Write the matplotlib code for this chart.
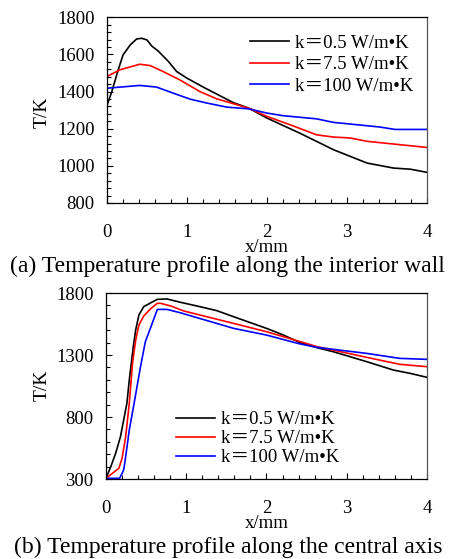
import matplotlib
matplotlib.use("Agg")
import matplotlib.pyplot as plt
from matplotlib.ticker import MultipleLocator, FixedLocator
from matplotlib.font_manager import FontProperties

plt.rcParams['font.family'] = ['Liberation Serif', 'Noto Sans CJK SC', 'DejaVu Sans']

labels = ["k\uff1d0.5 W/m\u2022K", "k\uff1d7.5 W/m\u2022K", "k\uff1d100 W/m\u2022K"]
colors = ["black", "red", "blue"]

# (a) interior wall
wall_x_k05 = [0, 0.06, 0.14, 0.20, 0.29, 0.37, 0.43, 0.50, 0.56, 0.64, 0.77, 0.87, 1.0, 1.22, 1.58, 1.77, 2.0, 2.41, 2.83, 3.25, 3.58, 3.79, 4.0]
wall_T_k05 = [1325, 1400, 1517, 1597, 1651, 1683, 1687, 1678, 1645, 1618, 1561, 1508, 1472, 1420, 1340, 1311, 1257, 1176, 1087, 1015, 988, 982, 965]
wall_x_k75 = [0, 0.16, 0.41, 0.54, 0.70, 0.91, 1.16, 1.37, 1.77, 2.0, 2.29, 2.62, 2.83, 3.04, 3.25, 3.66, 4.0]
wall_T_k75 = [1481, 1517, 1547, 1540, 1508, 1463, 1400, 1361, 1311, 1266, 1221, 1167, 1155, 1150, 1132, 1114, 1099]
wall_x_k100 = [0, 0.41, 0.62, 0.83, 1.04, 1.25, 1.5, 1.77, 2.0, 2.2, 2.62, 2.83, 3.25, 3.41, 3.6, 4.0]
wall_T_k100 = [1418, 1433, 1424, 1391, 1359, 1338, 1316, 1307, 1284, 1270, 1253, 1234, 1216, 1209, 1196, 1196]

# (b) central axis
axis_x_k05 = [0, 0.06, 0.12, 0.18, 0.22, 0.26, 0.29, 0.31, 0.34, 0.37, 0.41, 0.47, 0.56, 0.64, 0.76, 0.93, 1.17, 1.38, 1.59, 2.0, 2.21, 2.42, 2.63, 2.83, 3.04, 3.25, 3.58, 3.79, 4.0]
axis_T_k05 = [306, 400, 507, 641, 776, 910, 1098, 1206, 1367, 1502, 1623, 1690, 1722, 1749, 1752, 1725, 1690, 1658, 1609, 1515, 1461, 1400, 1359, 1327, 1287, 1246, 1179, 1152, 1120]
axis_x_k75 = [0, 0.16, 0.20, 0.245, 0.29, 0.33, 0.37, 0.41, 0.47, 0.56, 0.64, 0.68, 0.81, 0.97, 1.59, 2.0, 2.42, 2.63, 2.83, 3.25, 3.66, 4.0]
axis_T_k75 = [306, 386, 467, 641, 910, 1233, 1421, 1542, 1615, 1676, 1717, 1717, 1695, 1655, 1555, 1488, 1408, 1367, 1340, 1281, 1225, 1206]
axis_x_k100 = [0, 0.17, 0.22, 0.245, 0.29, 0.35, 0.43, 0.49, 0.56, 0.64, 0.76, 0.93, 1.59, 2.0, 2.42, 2.63, 2.83, 3.25, 3.66, 4.0]
axis_T_k100 = [306, 306, 373, 480, 695, 910, 1206, 1407, 1528, 1668, 1668, 1640, 1515, 1461, 1389, 1362, 1346, 1313, 1273, 1265]

wall_yticks = [800, 1000, 1200, 1400, 1600, 1800]
axis_yticks = [300, 800, 1300, 1800]
xticks = [0, 1, 2, 3, 4]

fig = plt.figure(figsize=(4.54, 5.59), dpi=100)

def style(ax, yticks, ymin_step):
    ax.set_xlim(xticks[0], xticks[-1])
    ax.set_ylim(yticks[0], yticks[-1])
    ax.xaxis.set_major_locator(FixedLocator(xticks))
    ax.xaxis.set_minor_locator(MultipleLocator(0.2))
    ax.yaxis.set_major_locator(FixedLocator(yticks))
    ax.yaxis.set_minor_locator(MultipleLocator(ymin_step))
    ax.tick_params(which='both', direction='in', top=False, right=False, labelsize=13.5)
    ax.tick_params(axis='x', which='both', pad=15)
    ax.tick_params(axis='y', which='both', pad=9)
    ax.tick_params(which='major', length=4, width=0.8)
    ax.tick_params(which='minor', length=3, width=0.8)
    for s in ax.spines.values():
        s.set_linewidth(0.9)
    ax.spines['right'].set_color('#555555')

leg_prop = FontProperties(family=['Liberation Serif', 'Noto Sans CJK SC'], size=13.5)

ax1 = fig.add_axes([0.2357, 0.6369, 0.7048, 0.3322])
for x, y, c, l in [(wall_x_k05, wall_T_k05, colors[0], labels[0]),
                   (wall_x_k75, wall_T_k75, colors[1], labels[1]),
                   (wall_x_k100, wall_T_k100, colors[2], labels[2])]:
    ax1.plot(x, y, color=c, lw=1.2, label=l)
style(ax1, wall_yticks, 40)
ax1.legend(loc='upper left', bbox_to_anchor=(0.447, 0.905), frameon=False, prop=leg_prop,
           handlelength=2.1, handletextpad=0.3, labelspacing=0.22, borderpad=0, borderaxespad=0)

ax2 = fig.add_axes([0.2335, 0.1431, 0.707, 0.3327])
for x, y, c, l in [(axis_x_k05, axis_T_k05, colors[0], labels[0]),
                   (axis_x_k75, axis_T_k75, colors[1], labels[1]),
                   (axis_x_k100, axis_T_k100, colors[2], labels[2])]:
    ax2.plot(x, y, color=c, lw=1.2, label=l)
style(ax2, axis_yticks, 100)
ax2.legend(loc='upper left', bbox_to_anchor=(0.218, 0.365), frameon=False, prop=leg_prop,
           handlelength=2.1, handletextpad=0.3, labelspacing=0.1, borderpad=0, borderaxespad=0)

H = 559.0
def fy(py):
    return 1 - py / H

fig.text(267 / 454, fy(248), "x/mm", ha='center', va='center', fontsize=13.5)
fig.text(42 / 454, fy(112), "T/K", ha='center', va='center', rotation=90, fontsize=14)
fig.text(227 / 454, fy(266), "(a) Temperature profile along the interior wall", ha='center', va='center', fontsize=17)

fig.text(267 / 454, fy(524), "x/mm", ha='center', va='center', fontsize=13.5)
fig.text(42 / 454, fy(385), "T/K", ha='center', va='center', rotation=90, fontsize=14)
fig.text(228 / 454, fy(547), "(b) Temperature profile along the central axis", ha='center', va='center', fontsize=17)

fig.savefig("out.png", dpi=100)
